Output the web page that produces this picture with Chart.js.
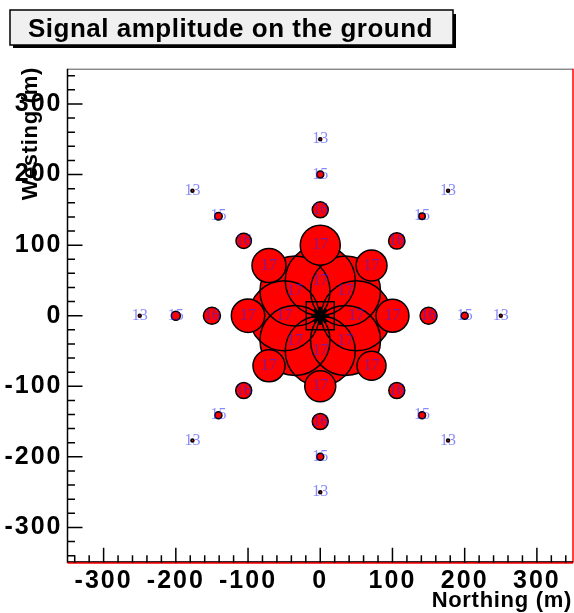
<!DOCTYPE html>
<html>
<head>
<meta charset="utf-8">
<script src="https://cdn.jsdelivr.net/npm/chart.js@4.4.0/dist/chart.umd.min.js"></script>
<style>
  body { margin: 0; background: #fff; }
  #wrap { width: 574px; height: 613px; }
</style>
</head>
<body>
<div id="wrap"><canvas id="myChart" width="574" height="613"></canvas></div>
<script>
// station positions (m), order per ring: N, NE, E, SE, S, SW, W, NW
const northing = [
    0,  35,  50,  35,    0,  -35,  -50,  -35,
    0,  71, 100,  71,    0,  -71, -100,  -71,
    0, 106, 150, 106,    0, -106, -150, -106,
    0, 141, 200, 141,    0, -141, -200, -141,
    0, 177, 250, 177,    0, -177, -250, -177
];
const westing = [
   50,  35,    0,  -35,  -50,  -35,    0,   35,
  100,  71,    0,  -71, -100,  -71,    0,   71,
  150, 106,    0, -106, -150, -106,    0,  106,
  200, 141,    0, -141, -200, -141,    0,  141,
  250, 177,    0, -177, -250, -177,    0,  177
];
// signal amplitude (arb. units)
const signal = [
  350, 350, 350, 350, 350, 350, 350, 350,
  200, 155, 165, 145, 155, 160, 167, 170,
   80,  82,  85,  80,  80,  80,  85,  77,
   35,  32,  35,  35,  35,  35,  45,  38,
   15,  15,  15,  15,  15,  15,  15,  15
];
const stationLabels = [
  '17','17','17','17','17','17','17','17',
  '17','17','17','17','17','17','17','17',
  '16','16','16','16','16','16','16','16',
  '15','15','15','15','15','15','15','15',
  '13','13','13','13','13','13','13','13'
];
const coreNorthing = [0];
const coreWesting = [0];
const tickValues = [-300, -200, -100, 0, 100, 200, 300];

const ampToRadius = a => a / 10;

const points = northing.map((x, i) => ({ x: x, y: westing[i], r: ampToRadius(signal[i]) }));
const innerRing = points.slice(0, 8);
const outerRings = points.slice(8);
const corePoints = coreNorthing.map((x, i) => ({ x: x, y: coreWesting[i] }));

const tickFont = { family: '"Liberation Sans", Arial, sans-serif', size: 25, weight: 'bold' };

const spacing = {
    id: 'spacing',
    beforeDraw(chart) { chart.ctx.letterSpacing = '2px'; }
};

const stationText = {
    id: 'stationText',
    afterDatasetsDraw(chart) {
        const ctx = chart.ctx;
        const sx = chart.scales.x, sy = chart.scales.y;
        ctx.save();
        ctx.letterSpacing = '0px';
        ctx.font = '16px "Liberation Serif", "Times New Roman", serif';
        ctx.fillStyle = 'rgba(40,40,255,0.55)';
        ctx.textAlign = 'center';
        ctx.textBaseline = 'middle';
        northing.forEach((n, i) => {
            ctx.fillText(stationLabels[i], sx.getPixelForValue(n), sy.getPixelForValue(westing[i]));
        });
        ctx.restore();
    }
};

const rootFrame = {
    id: 'rootFrame',
    afterDraw(chart) {
        const ctx = chart.ctx;
        const a = chart.chartArea;
        const sx = chart.scales.x, sy = chart.scales.y;
        ctx.save();

        // frame
        ctx.lineWidth = 1;
        ctx.strokeStyle = '#555';
        ctx.beginPath(); ctx.moveTo(a.left, a.top + 0.5); ctx.lineTo(a.right, a.top + 0.5); ctx.stroke();
        ctx.strokeStyle = '#ff0000';
        ctx.lineWidth = 1.5;
        ctx.beginPath(); ctx.moveTo(a.right, a.top); ctx.lineTo(a.right, a.bottom); ctx.stroke();
        ctx.lineWidth = 2;
        ctx.beginPath(); ctx.moveTo(a.left, a.bottom); ctx.lineTo(a.right, a.bottom); ctx.stroke();

        // axes
        ctx.strokeStyle = '#000';
        ctx.lineWidth = 1.5;
        ctx.beginPath(); ctx.moveTo(a.left, a.top); ctx.lineTo(a.left, a.bottom); ctx.stroke();
        ctx.lineWidth = 1;
        ctx.beginPath(); ctx.moveTo(a.left, a.bottom - 1); ctx.lineTo(a.right, a.bottom - 1); ctx.stroke();

        // ticks (inside)
        ctx.lineWidth = 1.5;
        ctx.beginPath();
        for (let v = -340; v <= 340; v += 20) {
            const len = (v % 100 === 0) ? 15 : 7.5;
            const px = sx.getPixelForValue(v);
            ctx.moveTo(px, a.bottom); ctx.lineTo(px, a.bottom - len);
            const py = sy.getPixelForValue(v);
            ctx.moveTo(a.left, py); ctx.lineTo(a.left + len, py);
        }
        ctx.stroke();

        // axis titles
        ctx.fillStyle = '#000';
        ctx.letterSpacing = '0.7px';
        ctx.font = 'bold 22px "Liberation Sans", Arial, sans-serif';
        ctx.textAlign = 'right';
        ctx.textBaseline = 'alphabetic';
        ctx.fillText('Northing (m)', 572, 607);
        ctx.save();
        ctx.translate(37, 67);
        ctx.rotate(-Math.PI / 2);
        ctx.fillText('Westing (m)', 0, 0);
        ctx.restore();

        // title box
        ctx.fillStyle = '#000';
        ctx.fillRect(13, 14, 443, 34);
        ctx.fillStyle = '#f0f0f0';
        ctx.fillRect(10, 10, 443, 35);
        ctx.strokeStyle = '#000';
        ctx.lineWidth = 1.5;
        ctx.strokeRect(10, 10, 443, 35);
        ctx.fillStyle = '#000';
        ctx.letterSpacing = '0.5px';
        ctx.font = 'bold 26px "Liberation Sans", Arial, sans-serif';
        ctx.textAlign = 'left';
        ctx.fillText('Signal amplitude on the ground', 28, 37, 408);

        ctx.restore();
    }
};

const myChart = document.getElementById('myChart');
const chart = new Chart(myChart, {
    type: 'bubble',
    data: {
        datasets: [{
            // inner ring fill
            data: innerRing,
            backgroundColor: '#ff0000',
            borderWidth: 0,
            order: 7
        }, {
            // inner ring outlines
            data: innerRing,
            backgroundColor: 'rgba(0,0,0,0)',
            borderColor: '#000',
            borderWidth: 1.5,
            order: 6
        }, {
            data: outerRings,
            backgroundColor: '#ff0000',
            borderColor: '#000',
            borderWidth: 1.5,
            order: 5
        }, {
            type: 'scatter',
            data: corePoints,
            pointStyle: 'rect',
            pointRadius: 19.8,
            backgroundColor: 'rgba(0,0,0,0)',
            borderColor: '#000',
            borderWidth: 1.5,
            order: 3
        }, {
            type: 'scatter',
            data: corePoints,
            pointStyle: 'circle',
            pointRadius: 5,
            backgroundColor: '#000',
            borderWidth: 0,
            order: 2
        }, {
            type: 'scatter',
            data: corePoints,
            pointStyle: 'star',
            pointRadius: 9,
            borderColor: '#000',
            borderWidth: 4,
            order: 1
        }]
    },
    options: {
        responsive: false,
        animation: false,
        events: [],
        layout: { autoPadding: false, padding: { top: 68.7, right: 1, left: 0, bottom: 0 } },
        plugins: {
            legend: { display: false },
            tooltip: { enabled: false },
            title: { display: false }
        },
        scales: {
            x: {
                type: 'linear', min: -350, max: 350,
                grid: { display: false, drawTicks: false },
                border: { display: false },
                ticks: { font: tickFont, color: '#000', padding: 3, maxRotation: 0, includeBounds: false },
                afterBuildTicks: s => { s.ticks = tickValues.map(v => ({ value: v })); },
                afterFit: s => { s.height = 50.3; s.paddingLeft = 0; s.paddingRight = 0; }
            },
            y: {
                type: 'linear', min: -350, max: 350,
                grid: { display: false, drawTicks: false },
                border: { display: false },
                ticks: { font: tickFont, color: '#000', padding: 5, includeBounds: false },
                afterBuildTicks: s => { s.ticks = tickValues.map(v => ({ value: v })); },
                afterFit: s => { s.width = 67.5; s.paddingTop = 0; s.paddingBottom = 0; }
            }
        }
    },
    plugins: [spacing, stationText, rootFrame]
});
</script>
</body>
</html>
